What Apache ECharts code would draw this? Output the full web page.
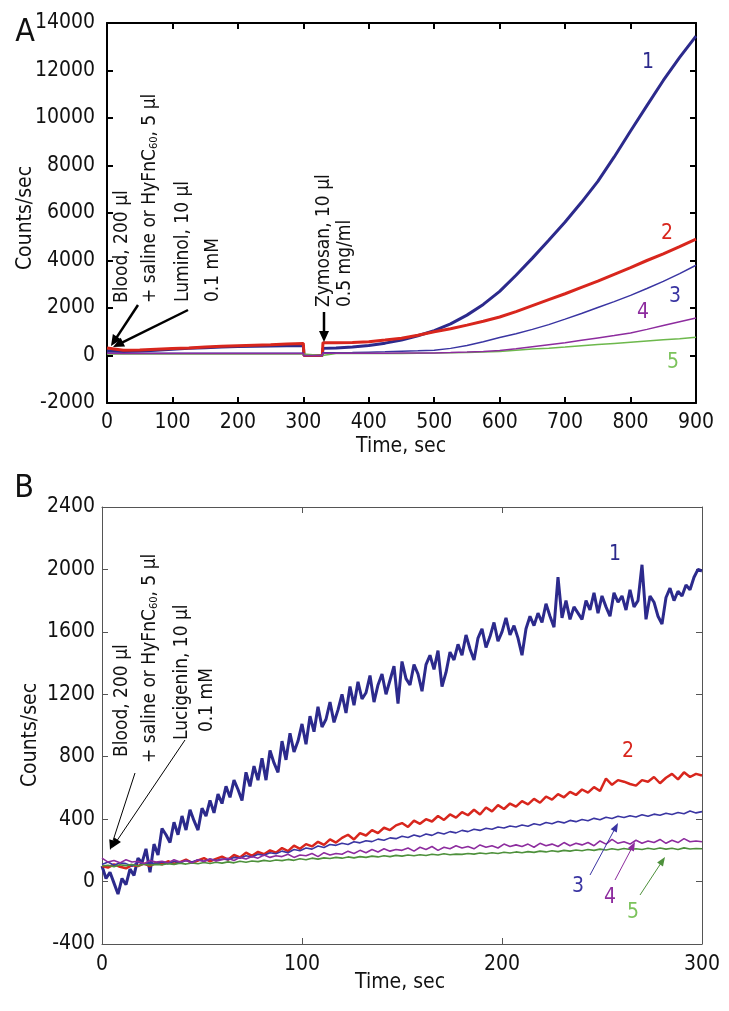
<!DOCTYPE html>
<html>
<head>
<meta charset="utf-8">
<script src="https://cdn.jsdelivr.net/npm/echarts@6/dist/echarts.min.js"></script>
<style>
html,body{margin:0;padding:0;background:#fff;}
#c{width:729px;height:1011px;}
</style>
</head>
<body>
<div id="c"></div>
<script>
// ---------- Panel A data (luminol) ----------
const timeA = [0,25,50,75,100,125,150,175,200,225,250,275,300,301,329,330,350,375,400,425,450,475,500,525,550,575,600,625,650,675,700,725,750,775,800,825,850,875,900];
const a1 = [200,170,190,220,260,300,330,360,380,390,400,410,420,0,0,300,320,360,420,520,650,830,1050,1330,1700,2150,2700,3380,4100,4850,5620,6450,7330,8360,9450,10520,11580,12550,13450];
const a2 = [320,220,230,260,290,320,360,390,410,430,450,480,510,0,0,540,540,550,580,650,730,850,1000,1130,1280,1440,1620,1850,2100,2350,2600,2870,3130,3420,3700,4000,4280,4580,4900];
const a3 = [110,100,100,95,95,95,95,95,95,95,95,95,95,0,0,120,120,125,140,155,175,195,220,300,420,580,760,920,1100,1300,1530,1770,2020,2270,2530,2820,3120,3450,3800];
const a4 = [90,85,85,85,85,85,85,85,85,85,85,85,85,0,0,100,100,100,100,100,102,105,110,125,145,170,215,280,370,455,540,640,740,840,950,1100,1260,1420,1580];
const a5 = [60,60,60,60,60,60,60,60,60,60,60,60,60,0,0,80,80,80,80,82,85,92,100,115,130,150,170,220,270,310,355,410,460,510,560,610,660,710,770];

// ---------- Panel B data (lucigenin) ----------
const stepB1 = 2; // sec between samples of b1
const b1 = [100,20,60,-10,-80,20,-20,80,40,150,
 120,210,60,240,170,340,300,250,380,300,
 420,330,460,390,330,470,420,520,440,560,
 500,610,540,650,590,520,700,610,740,650,
 790,650,840,760,700,900,780,950,830,900,
 1010,880,1060,960,1120,990,1040,1150,1020,1100,
 1200,1080,1250,1130,1280,1170,1210,1320,1150,1260,
 1330,1200,1290,1380,1140,1410,1300,1260,1390,1330,
 1220,1390,1450,1360,1480,1250,1340,1470,1420,1520,
 1450,1580,1490,1420,1560,1620,1500,1570,1660,1540,
 1600,1690,1580,1640,1560,1450,1620,1700,1640,1720,
 1660,1780,1700,1630,1950,1690,1800,1680,1760,1720,
 1680,1800,1740,1850,1720,1830,1760,1700,1850,1790,
 1830,1740,1870,1760,1800,2030,1680,1830,1790,1700,
 1650,1820,1880,1800,1860,1830,1900,1870,1950,2000,
 1990];
const stepB = 3; // sec between samples of b2..b5
const b2 = [100,90,110,95,85,105,100,115,100,120,
 110,130,115,125,140,120,135,150,130,145,
 160,140,170,155,185,165,190,175,200,185,
 215,195,230,210,240,225,255,235,270,250,
 280,300,270,310,295,330,310,345,330,360,
 375,350,390,370,400,385,420,395,430,410,
 445,425,460,430,475,450,490,465,500,480,
 515,495,530,505,545,525,560,540,575,555,
 590,570,605,580,660,620,650,640,625,615,
 650,640,670,630,665,690,655,700,670,690,
 680];
const b3 = [110,125,105,120,115,100,125,110,120,115,
 125,115,130,120,135,125,140,130,145,135,
 145,140,155,150,165,158,175,168,185,178,
 195,185,205,198,215,208,228,218,238,232,
 245,238,255,248,262,256,272,265,280,275,
 290,282,298,288,305,296,315,305,320,312,
 328,320,335,328,342,335,350,343,356,350,
 362,355,370,362,378,370,385,376,392,384,
 398,390,405,396,412,404,418,410,422,414,
 428,418,432,425,438,430,442,435,452,440,
 448];
const b4 = [150,125,135,120,140,125,130,115,135,125,
 130,120,140,125,135,120,140,128,145,132,
 140,150,135,155,145,160,150,170,155,165,
 160,175,155,170,165,180,160,185,170,180,
 175,195,180,200,185,205,190,210,195,205,
 200,215,195,220,205,225,200,220,210,230,
 215,225,210,235,220,230,215,240,225,235,
 225,240,220,245,230,240,225,250,230,245,
 235,250,230,260,240,270,245,255,240,265,
 245,260,250,270,245,265,250,275,255,260,
 255];
const b5 = [100,105,95,108,102,110,100,112,105,110,
 108,115,110,118,112,120,114,122,116,124,
 118,126,120,130,124,132,128,136,130,138,
 134,142,136,146,140,150,144,152,148,155,
 150,158,152,160,155,163,158,165,160,168,
 163,170,165,172,167,175,170,178,172,176,
 174,180,176,183,178,185,180,188,183,190,
 185,192,187,195,190,197,192,200,195,202,
 197,205,200,208,202,210,204,212,206,210,
 205,213,207,215,208,214,206,216,209,212,
 210];

// ---------- build ----------
const F = "'Liberation Sans Narrow','DejaVu Sans Condensed','Arial Narrow','Roboto Condensed',sans-serif";
const C = {blue:'#2c2a8c', red:'#d8261d', blue3:'#3a35a2', purple:'#8d2c9e', greenA:'#6db84c', greenB:'#4e913c', green5:'#7cc35c'};

function pairsA(vals){ return timeA.map((t,i)=>[t, vals[i]]); }
function pairsB(vals, step){ return vals.map((v,i)=>[i*step, v]); }

function line(name, data, color, width, xi){
  return {name, type:'line', data, xAxisIndex:xi, yAxisIndex:xi, symbol:'none', showSymbol:false,
    lineStyle:{color, width}, itemStyle:{color}, animation:false, silent:true, z:2};
}

function axisCommon(dark, w){
  return {
    axisLine:{show:true, onZero:false, lineStyle:{color:dark, width:w}},
    axisTick:{show:true, inside:true, length:6, lineStyle:{color:dark, width:w}},
    splitLine:{show:false}
  };
}
const plain = v => String(v);
const labelStyle = {fontSize:21, color:'#111', fontFamily:F, formatter:plain};

function arrow(x1,y1,x2,y2,color,w,hl,hw){
  const dx=x2-x1, dy=y2-y1, L=Math.sqrt(dx*dx+dy*dy), ux=dx/L, uy=dy/L;
  const bx=x2-ux*hl, by=y2-uy*hl, px=-uy, py=ux;
  return [
    {type:'line', shape:{x1,y1,x2:bx+ux*1,y2:by+uy*1}, style:{stroke:color, lineWidth:w}, silent:true, z:10},
    {type:'polygon', shape:{points:[[x2,y2],[bx+px*hw,by+py*hw],[bx-px*hw,by-py*hw]]}, style:{fill:color}, silent:true, z:10}
  ];
}
function vtext(x,y,text,size,rich,align){
  return {type:'text', x, y, rotation:Math.PI/2, silent:true, z:10,
    style:{text, fontSize:size, fontFamily:F, fill:'#111', textAlign:align||'left', textVerticalAlign:'middle', rich:rich||undefined}};
}
function htext(x,y,text,size,color){
  return {type:'text', x, y, silent:true, z:10,
    style:{text, fontSize:size, fontFamily:F, fill:color, textAlign:'center', textVerticalAlign:'middle'}};
}
const richSub = {sub:{fontSize:11, fontFamily:F, fill:'#111', verticalAlign:'bottom', padding:[8,0,0,0]}};

const graphics = [].concat(
  [htext(25,33,'A',32,'#111'), htext(24,489,'B',32,'#111')],
  // axis titles
  [vtext(26,218,'Counts/sec',21,null,'center'), htext(401,447,'Time, sec',21,'#111'),
   vtext(31,735,'Counts/sec',21,null,'center'), htext(400,983,'Time, sec',21,'#111')],
  // panel A annotations
  [vtext(122,303,'Blood, 200 µl',19),
   vtext(150,303,'+ saline or HyFnC{sub|60}, 5 µl',19,richSub),
   vtext(183,302,'Luminol, 10 µl',19),
   vtext(213,302,'0.1 mM',19),
   vtext(324,307,'Zymosan, 10 µl',19),
   vtext(345,307,'0.5 mg/ml',19)],
  arrow(138,305,111,346,'#000',2.5,11,5),
  arrow(188,310,113,347,'#000',2.5,11,5),
  arrow(324,312,324,342,'#000',2.5,11,5),
  [htext(648,63,'1',21,C.blue), htext(667,234,'2',21,C.red), htext(675,297,'3',21,C.blue3),
   htext(643,313,'4',21,C.purple), htext(673,363,'5',21,C.green5)],
  // panel B annotations
  [vtext(122,757,'Blood, 200 µl',19),
   vtext(150,763,'+ saline or HyFnC{sub|60}, 5 µl',19,richSub),
   vtext(182,740,'Lucigenin, 10 µl',19),
   vtext(207,732,'0.1 mM',19)],
  arrow(135,773,110,850,'#000',1,10,4),
  arrow(185,740,112,848,'#000',1,10,4),
  arrow(590,875,618,823,C.blue3,1,9,3.5),
  arrow(615,880,635,842,C.purple,1,9,3.5),
  arrow(640,895,665,857,C.greenB,1,9,3.5),
  [htext(615,555,'1',21,C.blue), htext(628,752,'2',21,C.red), htext(578,887,'3',21,C.blue3),
   htext(610,898,'4',21,C.purple), htext(633,913,'5',21,C.green5)]
);

const option = {
  backgroundColor:'#fff',
  animation:false,
  grid:[
    {left:107, top:23, width:589, height:380, containLabel:false, outerBoundsMode:'none'},
    {left:102, top:507, width:600, height:437, containLabel:false, outerBoundsMode:'none'}
  ],
  xAxis:[
    Object.assign({gridIndex:0, type:'value', min:0, max:900, interval:100, position:'bottom',
      axisLabel:Object.assign({margin:9}, labelStyle)}, axisCommon('#000',2)),
    Object.assign({gridIndex:0, type:'value', min:0, max:900, interval:100, position:'top',
      axisLabel:{show:false}}, axisCommon('#000',2)),
    Object.assign({gridIndex:1, type:'value', min:0, max:300, interval:100, position:'bottom',
      axisLabel:Object.assign({margin:10}, labelStyle)}, axisCommon('#555',1)),
    Object.assign({gridIndex:1, type:'value', min:0, max:300, interval:100, position:'top',
      axisLabel:{show:false}}, axisCommon('#555',1))
  ],
  yAxis:[
    Object.assign({gridIndex:0, type:'value', min:-2000, max:14000, interval:2000, position:'left',
      axisLabel:Object.assign({margin:12}, labelStyle)}, axisCommon('#000',2)),
    Object.assign({gridIndex:0, type:'value', min:-2000, max:14000, interval:2000, position:'right',
      axisLabel:{show:false}}, axisCommon('#000',2)),
    Object.assign({gridIndex:1, type:'value', min:-400, max:2400, interval:400, position:'left',
      axisLabel:Object.assign({margin:7}, labelStyle)}, axisCommon('#555',1)),
    Object.assign({gridIndex:1, type:'value', min:-400, max:2400, interval:400, position:'right',
      axisLabel:{show:false}}, axisCommon('#555',1))
  ],
  series:[
    line('A1', pairsA(a1), C.blue, 3, 0),
    line('A2', pairsA(a2), C.red, 3, 0),
    line('A3', pairsA(a3), C.blue3, 1.5, 0),
    line('A5', pairsA(a5), C.greenA, 1.5, 0),
    line('A4', pairsA(a4), C.purple, 1.5, 0),
    line('B1', pairsB(b1, stepB1), C.blue, 3, 2),
    line('B2', pairsB(b2, stepB), C.red, 2.5, 2),
    line('B3', pairsB(b3, stepB), C.blue3, 1.6, 2),
    line('B5', pairsB(b5, stepB), C.greenB, 1.6, 2),
    line('B4', pairsB(b4, stepB), C.purple, 1.6, 2)
  ],
  graphic: graphics
};
const chart = echarts.init(document.getElementById('c'), null, {renderer:'canvas'});
chart.setOption(option);
</script>
</body>
</html>
